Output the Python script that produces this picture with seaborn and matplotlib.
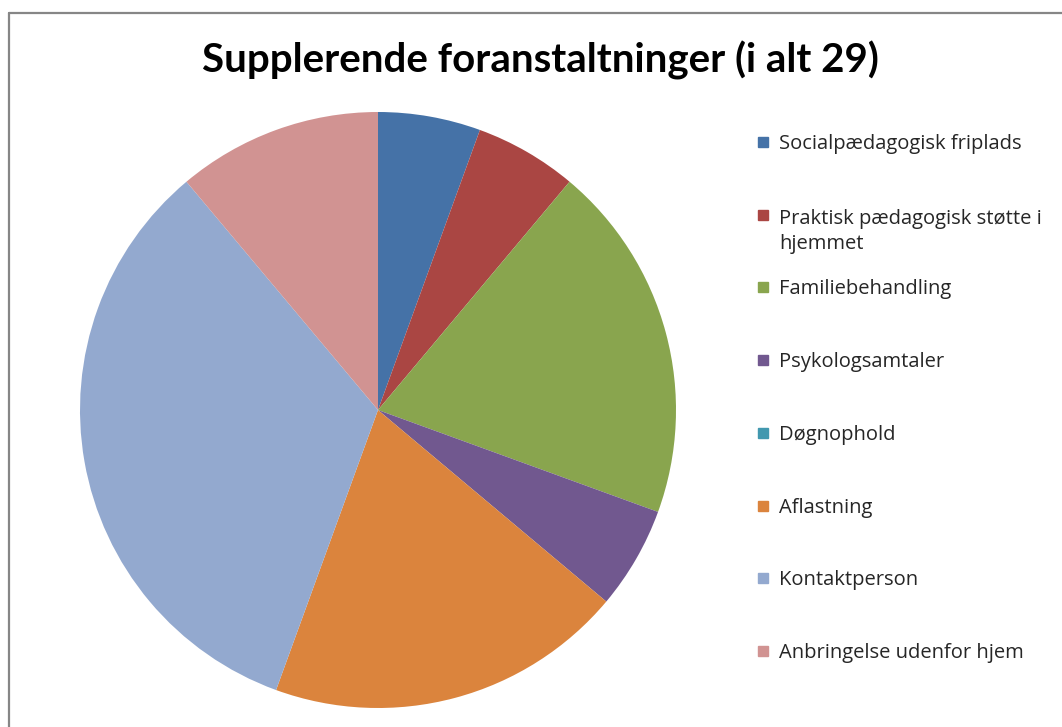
import matplotlib
matplotlib.use("Agg")
import matplotlib.pyplot as plt
import seaborn as sns
from matplotlib.patches import Rectangle

# data
kategorier = ['Socialpædagogisk friplads',
              'Praktisk pædagogisk støtte i\nhjemmet',
              'Familiebehandling',
              'Psykologsamtaler',
              'Døgnophold',
              'Aflastning',
              'Kontaktperson',
              'Anbringelse udenfor hjem']
antal = [2, 2, 7, 2, 0, 7, 12, 4]
farver = ['#4572A7', '#AA4643', '#89A54E', '#71588F',
          '#4198AF', '#DB843D', '#93A9CF', '#D19392']
titel = 'Supplerende foranstaltninger (i alt 29)'

sns.set_theme(style="white")
plt.rcParams['font.family'] = ['Lato', 'DejaVu Sans']

fig = plt.figure(figsize=(10.62, 7.27), dpi=100)
palette = sns.color_palette(farver)

ax = fig.add_axes([80 / 1062, 19 / 727, 596 / 1062, 596 / 727])
ax.pie(antal, colors=palette, startangle=90, counterclock=False,
       wedgeprops=dict(linewidth=0))
ax.set_xlim(-1, 1)
ax.set_ylim(-1, 1)
ax.set_aspect('equal')
ax.axis('off')

fig.text(540 / 1062, 1 - 60 / 727, titel, ha='center', va='center',
         fontsize=29, fontweight='bold', color='black')

# legend, placed by hand like excel does
y0 = 142
step = 72.7
linjehoejde = 27
for i, (lab, col) in enumerate(zip(kategorier, palette)):
    y = y0 + i * step
    fig.patches.append(Rectangle((758 / 1062, 1 - (y + 5) / 727), 10 / 1062, 10 / 727,
                                 color=col, transform=fig.transFigure))
    ekstra = lab.count('\n') * linjehoejde
    fig.text(779 / 1062, 1 - (y + 7 + ekstra) / 727, lab, ha='left', va='baseline',
             fontsize=14.5, color='#262626', linespacing=1.33,
             family=['Open Sans', 'DejaVu Sans'])

# grey frame at top and left
fig.add_artist(plt.Line2D([9 / 1062, 9 / 1062], [0, 1 - 13 / 727], color='#868686',
                          lw=1.6, transform=fig.transFigure))
fig.add_artist(plt.Line2D([9 / 1062, 1], [1 - 13 / 727, 1 - 13 / 727], color='#868686',
                          lw=1.6, transform=fig.transFigure))

fig.savefig('out.png', dpi=100, facecolor='white')
